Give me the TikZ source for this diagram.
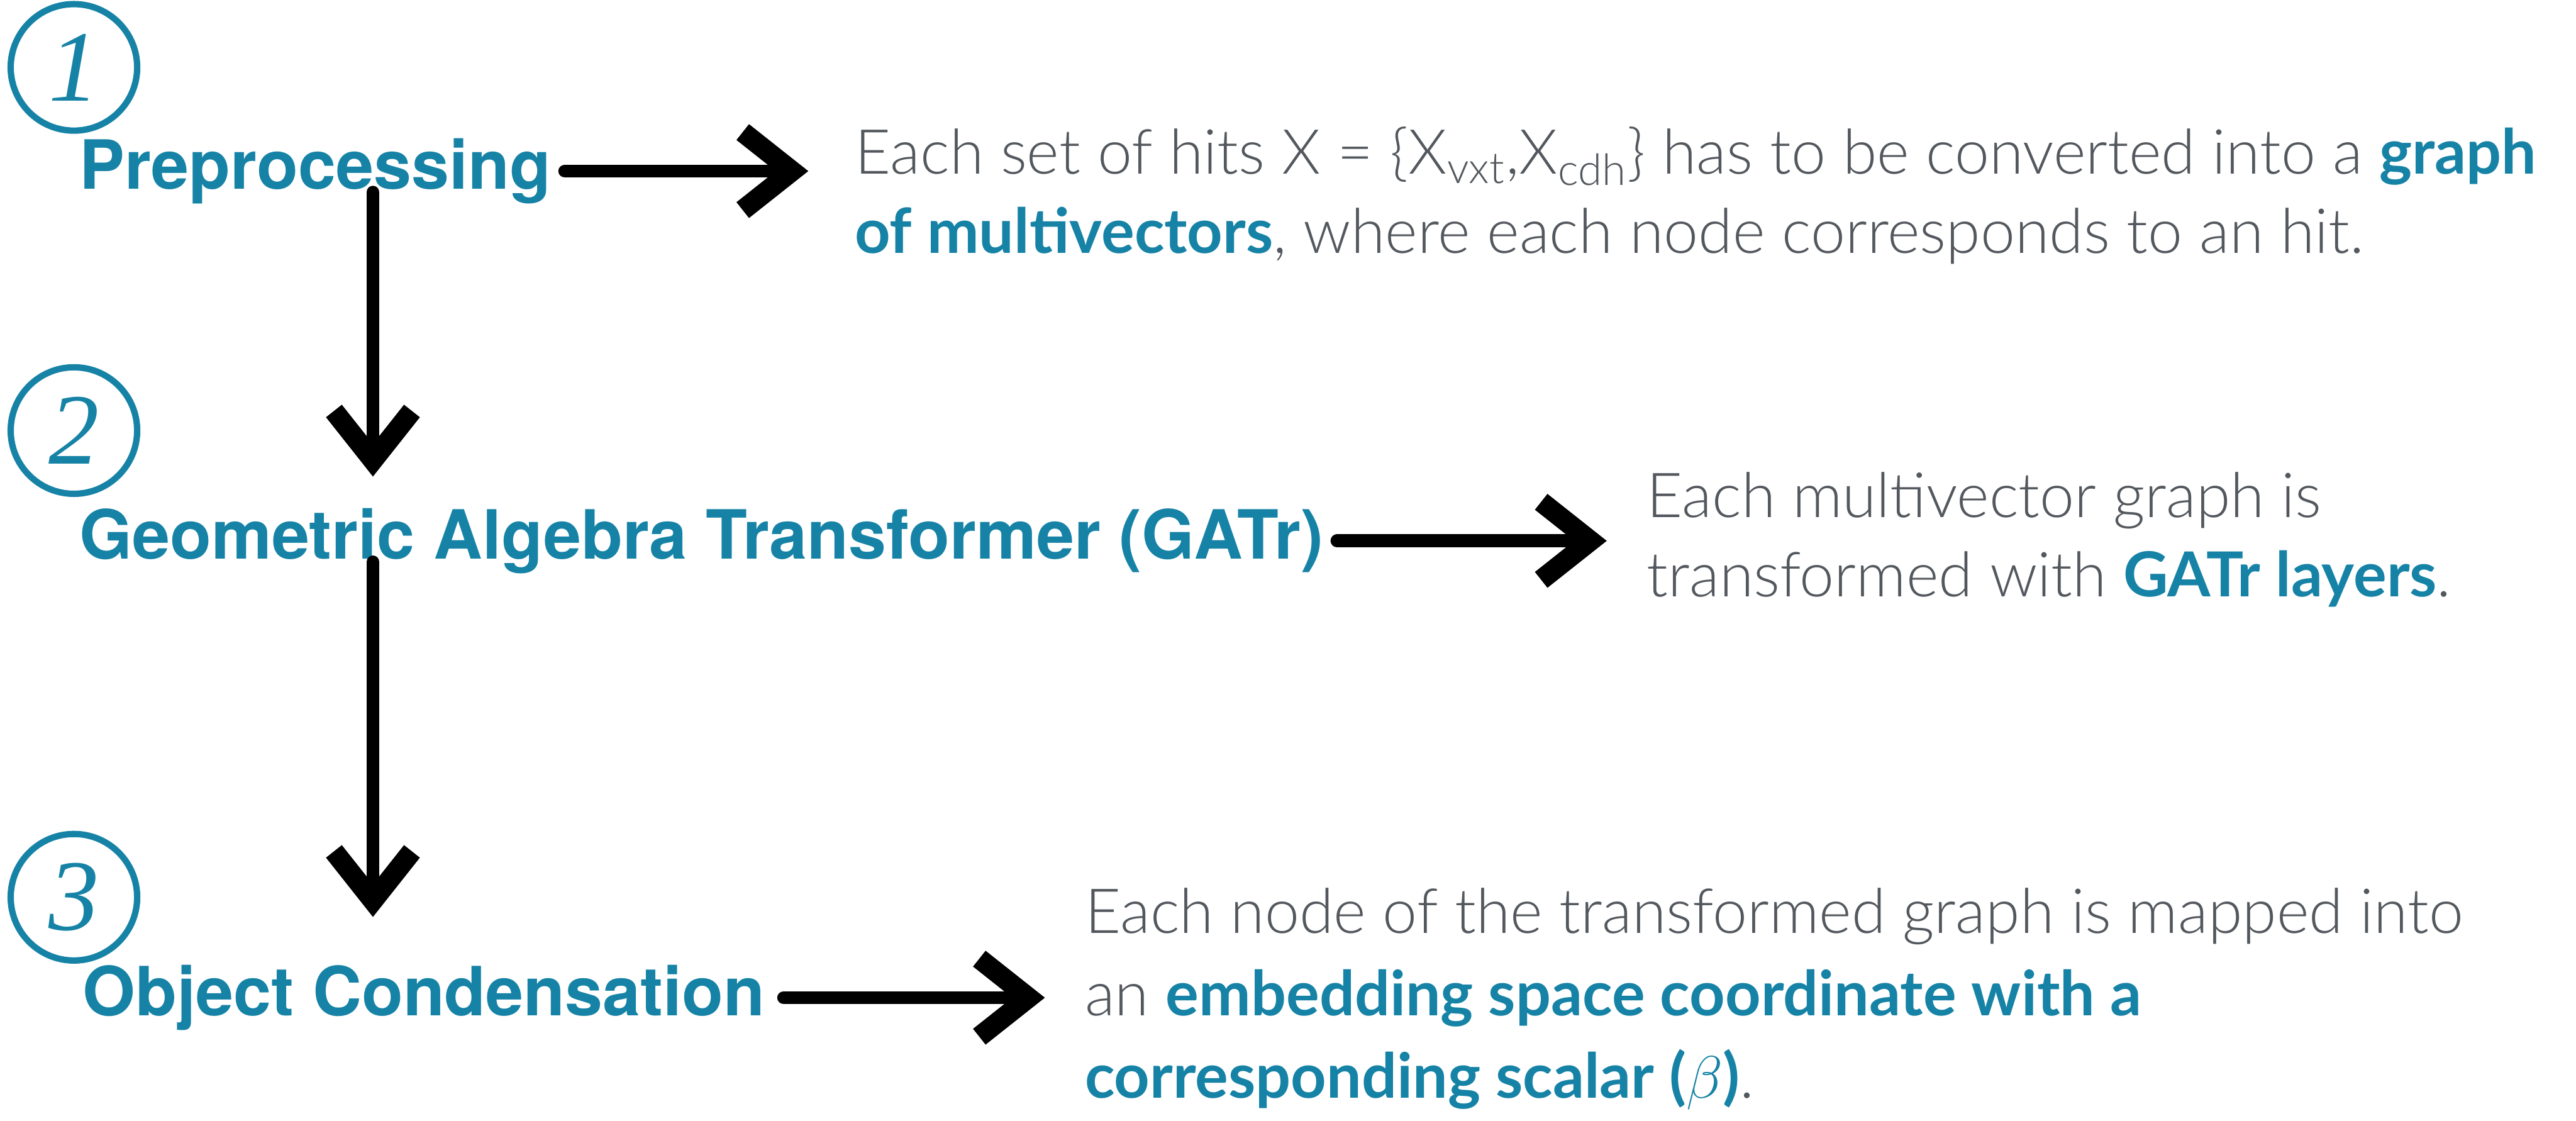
\documentclass[tikz,border=0pt]{standalone}
\usepackage{fontspec}
\setmainfont{TeX Gyre Heros}
\newfontfamily\descfont{Lato}[UprightFont=* Light, BoldFont=* Bold]
\newfontfamily\numfont{Liberation Serif}
\usetikzlibrary{arrows.meta}
\definecolor{gatrteal}{HTML}{1683A6}
\definecolor{descgrey}{HTML}{53585E}
\newcommand{\hlword}[1]{{\bfseries\color{gatrteal}#1}}

\begin{document}
\begin{tikzpicture}[
    stepnum/.style={circle, draw=gatrteal, line width=2.2pt, minimum size=1.54cm, inner sep=0pt,
      text=gatrteal, font=\numfont\itshape\fontsize{35}{35}\selectfont},
    stepname/.style={anchor=base west, inner sep=0pt, text=gatrteal,
      font=\fontsize{23.5}{28}\selectfont\bfseries},
    desctext/.style={anchor=base west, inner sep=0pt, align=left, text=descgrey,
      font=\descfont\fontsize{21.5}{27.3}\selectfont},
    sketcharrow/.style={line width=4.5pt, line cap=round,
      -{Straight Barb[length=6mm,width=9.5mm,line width=7pt]}}
  ]
  \useasboundingbox (0,0) rectangle (31.36,13.64);
  \coordinate (spine) at (4.54,0);

  % three numbered steps
  \node[stepnum] (num1) at (0.9,12.82) {1};
  \node[stepname] (prep) at (0.96,11.34) {Preprocessing};
  \node[stepnum] (num2) at (0.9,8.40) {2};
  \node[stepname] (gatr) at (0.96,6.84) {Geometric Algebra Transformer (GATr)};
  \node[stepnum] (num3) at (0.9,2.72) {3};
  \node[stepname] (oc) at (1.0,1.28) {Object Condensation};

  % descriptions (base = last line)
  \node[desctext] (desc1) at (10.4,10.56) {Each set of hits X = \{X\textsubscript{vxt},X\textsubscript{cdh}\} has to be converted into a \hlword{graph}\\
    \hlword{of multivectors}, where each node corresponds to an hit.};
  \node[desctext] (desc2) at (20.04,6.38) {Each multivector graph is\\
    transformed with \hlword{GATr layers}.};
  \node[desctext, font=\descfont\fontsize{21.5}{28.5}\selectfont] (desc3) at (13.2,0.28) {Each node of the transformed graph is mapped into\\
    an \hlword{embedding space coordinate with a}\\
    \hlword{corresponding scalar ($\beta$)}.};

  % arrows down
  \draw[sketcharrow, shorten <=0.04cm, shorten >=1.0cm] (prep.base -| spine) -- (gatr.base -| spine);
  \draw[sketcharrow, shorten <=0.04cm, shorten >=1.2cm] (gatr.base -| spine) -- (oc.base -| spine);
  % arrows right
  \draw[sketcharrow, shorten <=0.16cm, shorten >=0.56cm] (prep.east) -- (prep.east -| desc1.west);
  \draw[sketcharrow, shorten <=0.16cm, shorten >=0.48cm] (gatr.east) -- (gatr.east -| desc2.west);
  \draw[sketcharrow, shorten <=0.22cm, shorten >=0.48cm] (oc.east) -- (oc.east -| desc3.west);
\end{tikzpicture}
\end{document}
